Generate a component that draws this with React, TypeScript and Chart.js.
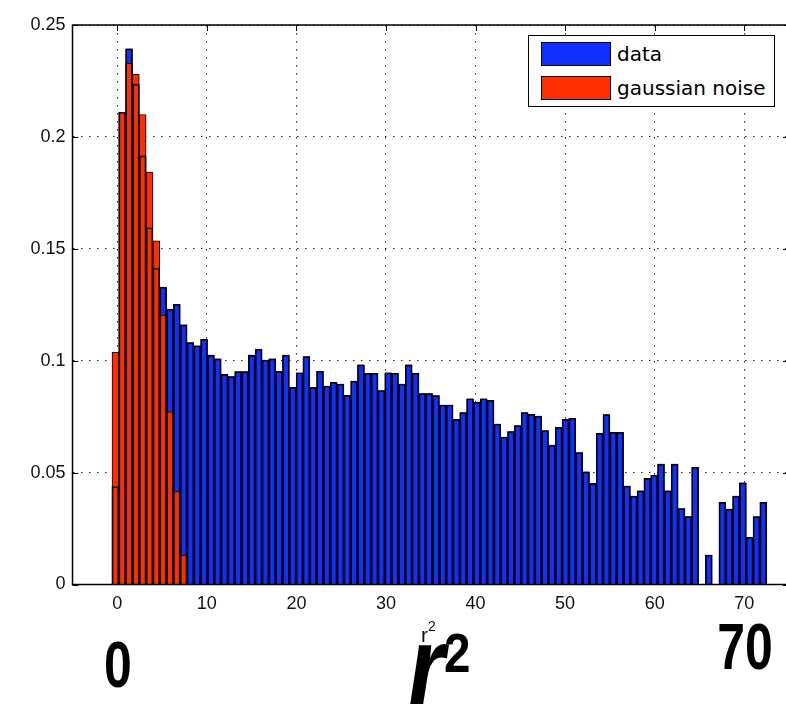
import React, { useEffect, useRef } from "react";
import { Chart, registerables } from "chart.js";

Chart.register(...registerables);

// Histogram bin definition (96 bins)
const BIN_START = -0.59;
const BIN_WIDTH = 0.7615;

// "data" histogram heights, one per bin
const DATA_VALUES = [
  0.0437, 0.211, 0.2393, 0.2236, 0.1915, 0.1594, 0.1414, 0.1329, 0.123, 0.1252,
  0.116, 0.1081, 0.1067, 0.1096, 0.1025, 0.1008, 0.0939, 0.0929, 0.0951, 0.0951,
  0.1025, 0.1051, 0.1003, 0.1008, 0.0953, 0.1025, 0.0881, 0.0946, 0.1018, 0.0881,
  0.0953, 0.0887, 0.0903, 0.0896, 0.0845, 0.0909, 0.0981, 0.0944, 0.0944, 0.0866,
  0.0946, 0.0944, 0.0896, 0.0981, 0.0944, 0.0853, 0.0853, 0.0844, 0.0802, 0.0802,
  0.0738, 0.0768, 0.083, 0.0815, 0.083, 0.0823, 0.0717, 0.0659, 0.0683, 0.071,
  0.0768, 0.076, 0.0752, 0.0688, 0.0623, 0.0702, 0.0738, 0.0743, 0.0589, 0.0503,
  0.0452, 0.0676, 0.0759, 0.068, 0.068, 0.044, 0.0395, 0.0418, 0.0474, 0.0488,
  0.0538, 0.0418, 0.0538, 0.0339, 0.0303, 0.0524, 0, 0.0132, 0, 0.0367,
  0.0337, 0.0395, 0.0454, 0.0211, 0.0303, 0.0367,
];

// "gaussian noise" histogram heights (first bins only)
const NOISE_VALUES = [
  0.1037, 0.211, 0.2329, 0.228, 0.21, 0.1843, 0.1536, 0.1203, 0.0772, 0.0415, 0.0132,
];

const X_TICKS = [0, 10, 20, 30, 40, 50, 60, 70];
const X_TICK_LABELS = ["0", "10", "20", "30", "40", "50", "60", "70"];
const Y_TICKS = [0, 0.05, 0.1, 0.15, 0.2, 0.25];
const Y_TICK_LABELS = ["0", "0.05", "0.1", "0.15", "0.2", "0.25"];
const SERIES_LABELS = ["data", "gaussian noise"];
const SERIES_COLORS = ["#1030ff", "#ff2e00"];
const X_MIN = -5;
const X_MAX = 75;
const Y_MIN = 0;
const Y_MAX = 0.25;

function hasFont(name: string): boolean {
  const ctx = document.createElement("canvas").getContext("2d");
  if (!ctx) return false;
  const s = "0123456789.mwil";
  ctx.font = "40px monospace";
  const a = ctx.measureText(s).width;
  ctx.font = `40px "${name}", monospace`;
  return Math.abs(ctx.measureText(s).width - a) > 0.5;
}

const framePlugin = {
  id: "matlabFrame",
  beforeDatasetsDraw(chart: any) {
    const { ctx, chartArea: a, scales } = chart;
    const x = scales.x;
    const y = scales.y;
    ctx.save();
    ctx.strokeStyle = "#000";
    ctx.lineWidth = 1;
    ctx.beginPath();
    X_TICKS.forEach((v) => {
      const px = Math.round(x.getPixelForValue(v)) + 0.5;
      ctx.moveTo(px, a.top);
      ctx.lineTo(px, a.top + 6);
      ctx.moveTo(px, a.bottom);
      ctx.lineTo(px, a.bottom - 6);
    });
    Y_TICKS.forEach((v) => {
      const py = Math.round(y.getPixelForValue(v)) + 0.5;
      ctx.moveTo(a.left, py);
      ctx.lineTo(a.left + 6, py);
      ctx.moveTo(a.right, py);
      ctx.lineTo(a.right - 6, py);
    });
    ctx.stroke();
    ctx.restore();
  },
  afterDatasetsDraw(chart: any) {
    const { ctx, chartArea: a } = chart;
    ctx.save();
    ctx.strokeStyle = "#000";
    ctx.lineWidth = 1.5;
    ctx.strokeRect(a.left, a.top, a.right - a.left, a.bottom - a.top);
    ctx.restore();
  },
};

export default function App() {
  const canvasRef = useRef<HTMLCanvasElement | null>(null);

  useEffect(() => {
    if (!canvasRef.current) return;
    const narrow = hasFont("Liberation Sans Narrow");
    const tickFont = narrow
      ? { family: "'Liberation Sans Narrow', 'Liberation Sans', sans-serif", size: 21 }
      : { family: "'Liberation Sans', sans-serif", size: 18 };

    const binCenter = (i: number) => BIN_START + BIN_WIDTH * (i + 0.5);
    const dataPts = DATA_VALUES.map((v, i) => ({ x: binCenter(i), y: v }));
    const noisePts = NOISE_VALUES.map((v, i) => ({ x: binCenter(i), y: v }));

    const common = {
      borderColor: "#000",
      borderWidth: 1,
      grouped: false,
      barPercentage: 1,
      categoryPercentage: 1,
      borderSkipped: "start",
    };

    const chart = new Chart(canvasRef.current, {
      type: "bar",
      data: {
        datasets: [
          { ...common, label: SERIES_LABELS[0], data: dataPts, backgroundColor: SERIES_COLORS[0], order: 2 },
          { ...common, label: SERIES_LABELS[1], data: noisePts, backgroundColor: SERIES_COLORS[1], order: 1 },
          { ...common, label: "edges", data: dataPts, backgroundColor: "rgba(0,0,0,0)", order: 0 },
        ] as any,
      },
      options: {
        animation: false,
        responsive: false,
        events: [],
        layout: { padding: { top: 25, right: 11, bottom: 0, left: 0 } },
        plugins: {
          legend: { display: false },
          tooltip: { enabled: false },
          title: { display: false },
        },
        scales: {
          x: {
            type: "linear",
            min: X_MIN,
            max: X_MAX,
            offset: false,
            afterBuildTicks: (s: any) => {
              s.ticks = X_TICKS.map((v) => ({ value: v }));
            },
            afterFit: (s: any) => {
              s.height = 119.5;
            },
            ticks: {
              autoSkip: false,
              maxRotation: 0,
              padding: 9,
              color: "#111",
              font: tickFont,
              callback: (_v: any, i: number) => X_TICK_LABELS[i],
            },
            grid: {
              offset: false,
              drawTicks: false,
              color: "#222",
              lineWidth: 1,
            },
            border: { display: false, dash: [1.5, 6.5] },
          },
          y: {
            type: "linear",
            min: Y_MIN,
            max: Y_MAX,
            afterBuildTicks: (s: any) => {
              s.ticks = Y_TICKS.map((v) => ({ value: v }));
            },
            afterFit: (s: any) => {
              s.width = 72.5;
            },
            ticks: {
              padding: 7,
              color: "#111",
              font: tickFont,
              callback: (_v: any, i: number) => Y_TICK_LABELS[i],
            },
            grid: {
              drawTicks: false,
              color: "#222",
              lineWidth: 1,
            },
            border: { display: false, dash: [1.5, 6.5] },
          },
        },
      } as any,
      plugins: [framePlugin],
    });
    return () => chart.destroy();
  }, []);

  const bigFont = "'Liberation Sans', Arial, sans-serif";

  return (
    <div
      style={{
        position: "fixed",
        left: 0,
        top: 0,
        width: 786,
        height: 704,
        overflow: "hidden",
        background: "#fff",
      }}
    >
      <canvas
        ref={canvasRef}
        width={800}
        height={704}
        style={{ position: "absolute", left: 0, top: 0, display: "block" }}
      />

      {/* legend */}
      <div
        style={{
          position: "absolute",
          left: 528,
          top: 35,
          width: 247,
          height: 72,
          boxSizing: "border-box",
          border: "1px solid #000",
          background: "#fff",
        }}
      >
        {SERIES_LABELS.map((lab, i) => (
          <div
            key={lab}
            style={{
              position: "absolute",
              left: 0,
              top: 6 + i * 34,
              height: 24,
              display: "flex",
              alignItems: "center",
              whiteSpace: "nowrap",
            }}
          >
            <div
              style={{
                marginLeft: 12,
                width: 70,
                height: 24,
                boxSizing: "border-box",
                border: "1px solid #000",
                background: SERIES_COLORS[i],
              }}
            />
            <span
              style={{
                marginLeft: 6,
                fontFamily: "'DejaVu Sans', sans-serif",
                fontSize: 20,
                lineHeight: "24px",
                color: "#000",
              }}
            >
              {lab}
            </span>
          </div>
        ))}
      </div>

      {/* small x-axis label r^2 */}
      <div style={{ position: "absolute", left: 421, top: 624, fontFamily: bigFont, fontSize: 21, lineHeight: 1, color: "#111" }}>r</div>
      <div style={{ position: "absolute", left: 428, top: 619, fontFamily: bigFont, fontSize: 14, lineHeight: 1, color: "#111" }}>2</div>

      {/* big annotations */}
      <div
        style={{
          position: "absolute",
          left: 18,
          width: 200,
          top: 633,
          textAlign: "center",
          fontFamily: bigFont,
          fontWeight: "bold",
          fontSize: 64,
          lineHeight: 1,
          transform: "scaleX(0.78)",
          color: "#000",
        }}
      >
        0
      </div>
      <div
        style={{
          position: "absolute",
          left: 645,
          width: 200,
          top: 615,
          textAlign: "center",
          fontFamily: bigFont,
          fontWeight: "bold",
          fontSize: 64,
          lineHeight: 1,
          transform: "scaleX(0.78)",
          color: "#000",
        }}
      >
        70
      </div>
      <div
        style={{
          position: "absolute",
          left: 408,
          top: 608,
          fontFamily: bigFont,
          fontWeight: "bold",
          fontStyle: "italic",
          fontSize: 118,
          lineHeight: 1,
          transform: "scaleX(0.8)",
          transformOrigin: "left top",
          color: "#000",
        }}
      >
        r
      </div>
      <div
        style={{
          position: "absolute",
          left: 444,
          top: 625,
          fontFamily: bigFont,
          fontWeight: "bold",
          fontSize: 56,
          lineHeight: 1,
          transform: "scaleX(0.85)",
          transformOrigin: "left top",
          color: "#000",
        }}
      >
        2
      </div>
    </div>
  );
}
